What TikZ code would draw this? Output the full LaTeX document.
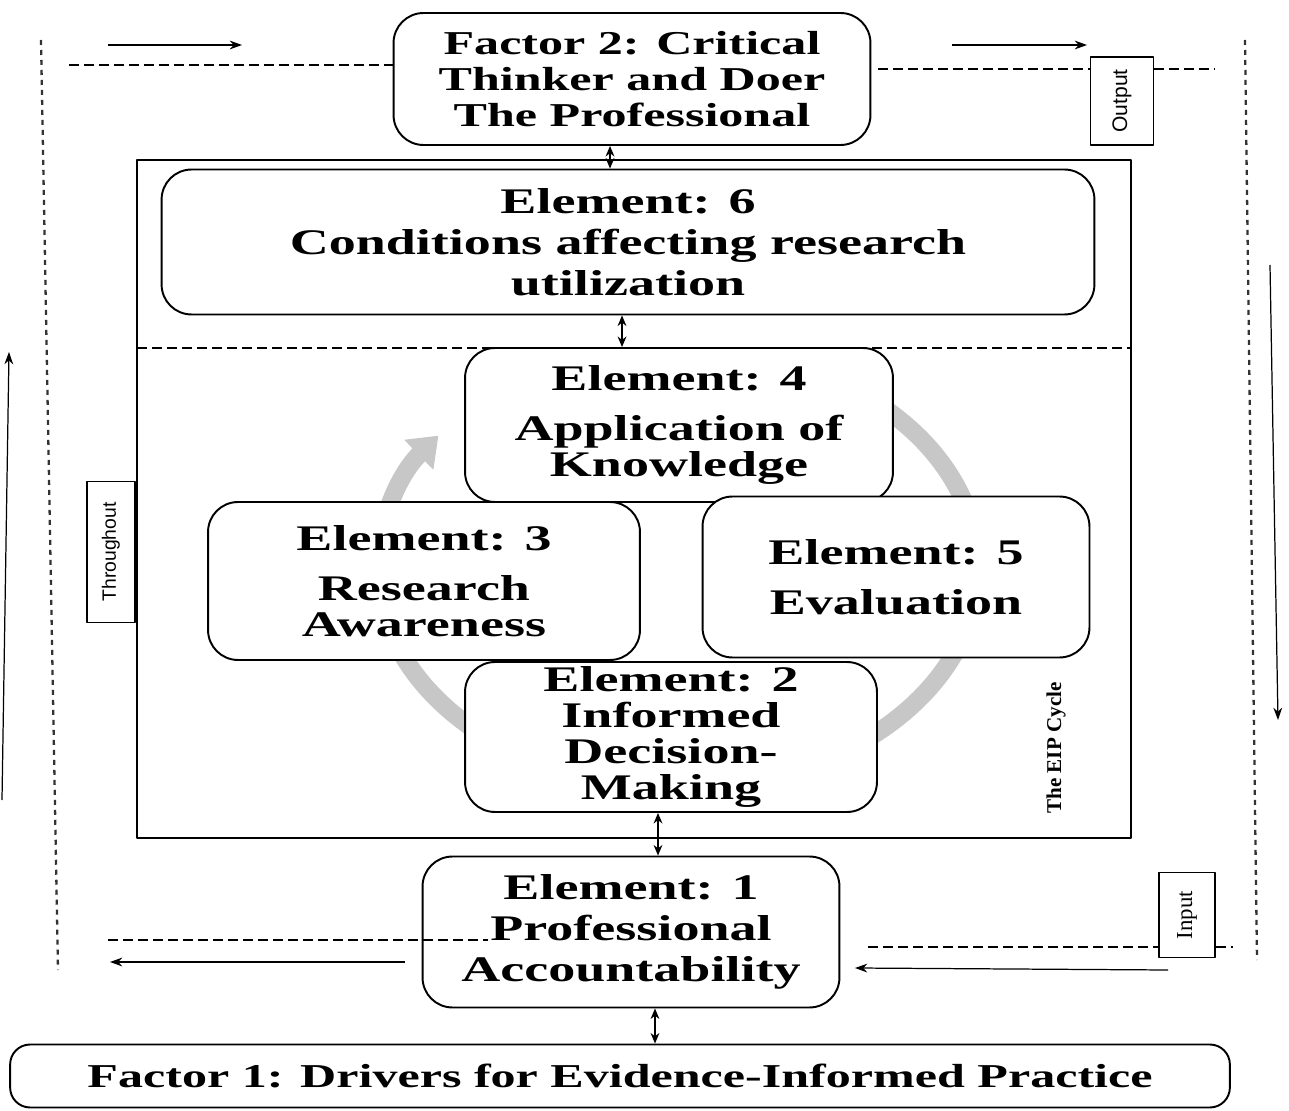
\documentclass[tikz,border=0pt]{standalone}
\usepackage{fontspec}
\setmainfont[FakeStretch=1.5]{Liberation Serif}
\newfontfamily\plainserif{Liberation Serif}
\newfontfamily\plainsans{Liberation Sans}
\usepackage{tikz}
\usetikzlibrary{arrows.meta,positioning,calc}

\begin{document}
\begin{tikzpicture}[x=0.02cm, y=0.02cm, line join=round,
  box/.style={draw, line width=1.1pt, rounded corners=0.6cm, fill=white, align=center, inner sep=2pt, font=\bfseries\fontsize{20.5}{20.5}\selectfont},
  factor/.style={box, font=\bfseries\fontsize{19}{20.5}\selectfont},
  tag/.style={draw, line width=1.1pt, fill=white, rotate=90, inner sep=1pt},
  arr/.style={-{Stealth[length=7pt,width=5pt]}, line width=0.7pt},
  dbl/.style={{Stealth[length=6pt,width=5pt]}-{Stealth[length=6pt,width=5pt]}, line width=0.9pt},
  split/.style={dash pattern=on 0.2cm off 0.1cm, line width=0.6pt},
  bound/.style={dash pattern=on 0.1cm off 0.1cm, line width=1.3pt, black!80},
  ring/.style={line width=0.36cm, black!22, -{Triangle[length=0.55cm,width=0.8cm]}}]

\useasboundingbox (0,0) rectangle (1289,-1111);

% grey cycle behind the elements
\coordinate (cyc) at (678,-568);
\draw[ring] (cyc) ++(60:6cm and 4.4cm) arc[start angle=60, end angle=-217, x radius=6cm, y radius=4.4cm];

% EIP frame with its dashed split
\coordinate (fr-nw) at (137,-160);
\coordinate (fr-se) at (1131,-838);
\draw[line width=1.1pt] (fr-nw) rectangle (fr-se);
\coordinate (mid-w) at (137,-348);
\draw[split] (mid-w) -- (mid-w -| fr-se);

% elements and factors
\node[factor, minimum width=9.54cm, minimum height=2.64cm] (fac2) at (632,-79) {Factor 2: Critical\\Thinker and Doer\\The Professional};
\node[box, minimum width=18.66cm, minimum height=2.9cm] (el6) at (628,-242) {Element: 6\\[2.8pt]Conditions affecting research\\[2.8pt]utilization};
\node[box, minimum width=8.56cm, minimum height=3.08cm] (el4) at (679,-425) {Element: 4\\[8pt]Application of\\Knowledge};
\node[box, minimum width=8.64cm, minimum height=3.16cm] (el3) at (424,-581) {Element: 3\\[8pt]Research\\Awareness};
\node[box, minimum width=7.74cm, minimum height=3.22cm] (el5) at (896,-577) {Element: 5\\[8pt]Evaluation};
\node[box, minimum width=8.24cm, minimum height=3.0cm] (el2) at (671,-737) {Element: 2\\Informed\\Decision-\\Making};
\node[box, minimum width=8.34cm, minimum height=3.02cm] (el1) at (631,-932) {Element: 1\\[2.8pt]Professional\\[2.8pt]Accountability};
\node[factor, rounded corners=0.4cm, minimum width=24.4cm, minimum height=1.26cm] (fac1) at (620,-1076) {Factor 1: Drivers for Evidence-Informed Practice};

% side tags
\node[tag, minimum width=1.76cm, minimum height=1.26cm, font=\plainsans\fontsize{12}{12}\selectfont] (outp) at (1122,-101) {Output};
\node[tag, minimum width=1.7cm, minimum height=1.12cm, font=\plainserif\fontsize{13}{13}\selectfont] (inp) at (1187,-915) {Input};
\node[tag, minimum width=2.82cm, minimum height=0.96cm, font=\plainsans\fontsize{11}{11}\selectfont] (thru) at (111,-552) {Throughout};
\node[rotate=90, font=\plainserif\bfseries\fontsize{12}{12}\selectfont] (eip) at (1056,-748) {The EIP Cycle};

% links between the stages
\coordinate (a62) at ([xshift=-0.44cm]fac2.south);
\draw[dbl] (a62) -- (a62 |- el6.north);
\coordinate (a46) at ([xshift=-1.14cm]el4.north);
\draw[dbl] (a46) -- (a46 |- el6.south);
\coordinate (a21) at ([xshift=-0.26cm]el2.south);
\draw[dbl] (a21) -- (a21 |- el1.north);
\coordinate (a1f) at ([xshift=0.48cm]el1.south);
\draw[dbl] (a1f) -- (a1f |- fac1.north);

% dashed input / output levels
\coordinate (ol) at (69,-65);
\draw[split] (ol) -- (ol -| fac2.west);
\coordinate (or) at (878,-69);
\draw[split] (or) -- (or -| outp.north);
\coordinate (or2) at (1215,-69);
\draw[split] (outp.south |- or2) -- (or2);
\coordinate (il) at (108,-940);
\coordinate (ie) at (488,-940);
\draw[split] (il) -- (ie);
\coordinate (ir) at (868,-947);
\draw[split] (ir) -- (ir -| inp.north);
\coordinate (ir2) at (1233,-947);
\draw[split] (inp.south |- ir2) -- (ir2);

% outer dotted bounds
\path (41,-40) coordinate (bl-t) (58,-970) coordinate (bl-b)
      (1245,-40) coordinate (br-t) (1257,-960) coordinate (br-b);
\draw[bound] (bl-t) -- (bl-b);
\draw[bound] (br-t) -- (br-b);

% flow arrows
\path (108,-45) coordinate (fl1a) (242,-45) coordinate (fl1b)
      (952,-45) coordinate (fl2a) (1087,-45) coordinate (fl2b)
      (1270,-265) coordinate (fl3a) (1278,-720) coordinate (fl3b)
      (1168,-970) coordinate (fl4a) (855,-968) coordinate (fl4b)
      (405,-962) coordinate (fl5a) (110,-962) coordinate (fl5b)
      (2,-800) coordinate (fl6a) (9,-352) coordinate (fl6b);
\foreach \i in {1,...,6}
  \draw[arr] (fl\i a) -- (fl\i b);
\end{tikzpicture}
\end{document}
